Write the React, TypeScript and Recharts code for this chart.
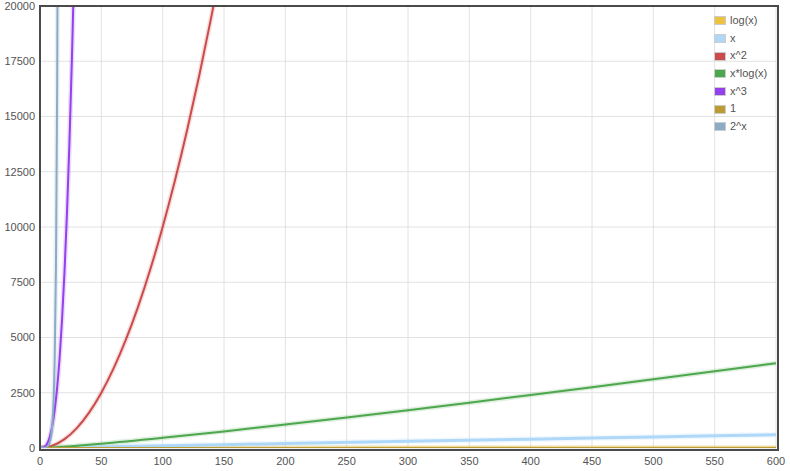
import React from "react";
import { LineChart, Line, XAxis, YAxis, CartesianGrid } from "recharts";

const logX = [0, 1, 10, 50, 100, 200, 300, 400, 500, 600];
const logY = [0, 0, 2.3, 3.9, 4.6, 5.3, 5.7, 6.0, 6.2, 6.4];

const linX = [0, 100, 200, 300, 400, 500, 600];
const linY = [0, 100, 200, 300, 400, 500, 600];

const sqX = [0, 10, 20, 30, 40, 50, 60, 70, 80, 90, 100, 110, 120, 130, 140, 150];
const sqY = [0, 100, 400, 900, 1600, 2500, 3600, 4900, 6400, 8100, 10000, 12100, 14400, 16900, 19600, 22500];

const xlogX = [0, 1, 10, 50, 100, 150, 200, 250, 300, 350, 400, 450, 500, 550, 600];
const xlogY = [0, 0, 23, 196, 461, 752, 1060, 1380, 1711, 2050, 2397, 2749, 3107, 3471, 3838];

const cubeX = [0, 2, 4, 6, 8, 10, 12, 14, 16, 18, 20, 22, 24, 26, 28];
const cubeY = [0, 8, 64, 216, 512, 1000, 1728, 2744, 4096, 5832, 8000, 10648, 13824, 17576, 21952];

const oneX = [0, 600];
const oneY = [1, 1];

const expX = [0, 1, 2, 3, 4, 5, 6, 7, 8, 9, 10, 11, 12, 13, 14, 15];
const expY = [1, 2, 4, 8, 16, 32, 64, 128, 256, 512, 1024, 2048, 4096, 8192, 16384, 32768];

const xTicks = [0, 50, 100, 150, 200, 250, 300, 350, 400, 450, 500, 550, 600];
const yTicks = [0, 2500, 5000, 7500, 10000, 12500, 15000, 17500, 20000];

const seriesNames = ["log(x)", "x", "x^2", "x*log(x)", "x^3", "1", "2^x"];
const seriesColors = ["#edc240", "#afd8f8", "#cb4b4b", "#4da74d", "#9440ed", "#bd9b33", "#8cacc6"];
const seriesXs = [logX, linX, sqX, xlogX, cubeX, oneX, expX];
const seriesYs = [logY, linY, sqY, xlogY, cubeY, oneY, expY];
const seriesWidths = [2, 3, 2, 2, 2, 2, 2];

const build = (xs: number[], ys: number[]) => xs.map((x, i) => ({ x, y: ys[i] }));

const W = 790;
const H = 471;
const PL = 40, PT = 6, PR = 776, PB = 448;

export default function App() {
  const font = "'Liberation Sans', Arial, sans-serif";
  return (
    <div style={{ position: "fixed", left: 0, top: 0, width: W, height: H, background: "#fff", fontFamily: font }}>
      <LineChart width={W} height={H} margin={{ top: PT, right: W - PR, bottom: 0, left: 0 }}>
        <CartesianGrid stroke="#e2e2e2" strokeWidth={1} horizontal vertical />
        <XAxis
          type="number"
          dataKey="x"
          domain={[0, 600]}
          ticks={xTicks}
          allowDataOverflow
          height={H - PB}
          tickLine={false}
          axisLine={false}
          tickSize={0}
          tickMargin={9}
          tick={{ fontSize: 11, fill: "#545454", fontFamily: font }}
          interval={0}
        />
        <YAxis
          type="number"
          domain={[0, 20000]}
          ticks={yTicks}
          allowDataOverflow
          width={PL}
          tickLine={false}
          axisLine={false}
          tickSize={0}
          tickMargin={5}
          tick={{ fontSize: 11, fill: "#545454", fontFamily: font }}
          interval={0}
        />
        {seriesNames.map((name, i) => (
          <Line
            key={"s" + i}
            data={build(seriesXs[i], seriesYs[i])}
            dataKey="y"
            name={name}
            type="monotone"
            stroke={seriesColors[i]}
            strokeOpacity={0.18}
            strokeWidth={seriesWidths[i] + 3}
            dot={false}
            activeDot={false}
            isAnimationActive={false}
            legendType="none"
          />
        ))}
        {seriesNames.map((name, i) => (
          <Line
            key={"l" + i}
            data={build(seriesXs[i], seriesYs[i])}
            dataKey="y"
            name={name}
            type="monotone"
            stroke={seriesColors[i]}
            strokeWidth={seriesWidths[i]}
            dot={false}
            activeDot={false}
            isAnimationActive={false}
          />
        ))}
      </LineChart>
      <div
        style={{
          position: "absolute",
          left: PL - 1,
          top: PT - 1,
          width: PR - PL,
          height: PB - PT,
          border: "2px solid #4a4a4a",
          pointerEvents: "none",
        }}
      />
      <div style={{ position: "absolute", left: 714, top: 12, fontSize: 11, color: "#545454", lineHeight: "17.7px" }}>
        {seriesNames.map((name, i) => (
          <div key={name} style={{ display: "flex", alignItems: "center", height: 17.7 }}>
            <div style={{ width: 12, height: 9, border: "1px solid #ccc", padding: 0, marginRight: 4, boxSizing: "border-box", background: "#fff", display: "flex" }}>
              <div style={{ flex: 1, background: seriesColors[i], opacity: 1 }} />
            </div>
            <span>{name}</span>
          </div>
        ))}
      </div>
    </div>
  );
}
